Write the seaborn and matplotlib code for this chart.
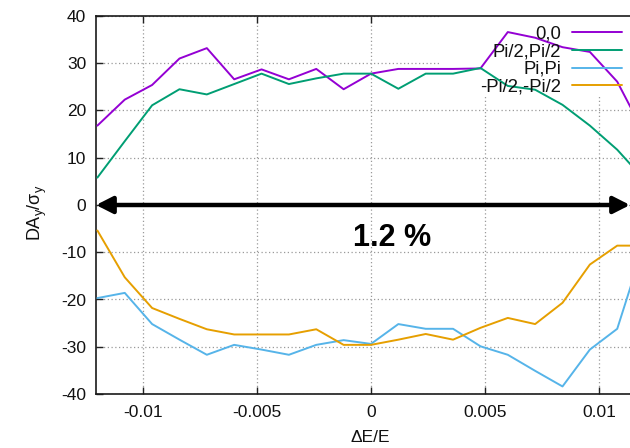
import matplotlib
matplotlib.use("Agg")
import matplotlib.pyplot as plt
import matplotlib.patches as mpatches
from matplotlib.lines import Line2D
import seaborn as sns
import pandas as pd

# ---------------- data ----------------
dE = [-0.012, -0.0108, -0.0096, -0.0084, -0.0072, -0.006, -0.0048, -0.0036,
      -0.0024, -0.0012, 0.0, 0.0012, 0.0024, 0.0036, 0.0048, 0.006, 0.0072,
      0.0084, 0.0096, 0.0108, 0.012]
da_00 = [16.8, 22.3, 25.4, 31.0, 33.2, 26.6, 28.7, 26.6, 28.8, 24.5, 27.8,
         28.8, 28.8, 28.8, 28.9, 36.6, 35.4, 33.4, 32.4, 26.1, 15.0]
da_pi2 = [5.8, 13.5, 21.1, 24.5, 23.4, 25.6, 27.8, 25.6, 26.8, 27.8, 27.8,
          24.6, 27.8, 27.8, 29.0, 25.2, 24.4, 21.2, 16.8, 11.7, 5.3]
da_pi = [-19.7, -18.6, -25.2, -28.5, -31.7, -29.6, -30.6, -31.7, -29.6, -28.6,
         -29.4, -25.2, -26.2, -26.2, -29.9, -31.7, -35.1, -38.4, -30.6, -26.2, -8.0]
da_mpi2 = [-5.4, -15.3, -21.8, -24.1, -26.3, -27.4, -27.4, -27.4, -26.3, -29.6,
           -29.6, -28.5, -27.3, -28.5, -26.0, -23.9, -25.2, -20.7, -12.6, -8.6, -8.6]
series_names = ["0,0", "Pi/2,Pi/2", "Pi,Pi", "-Pi/2,-Pi/2"]
series_vals = [da_00, da_pi2, da_pi, da_mpi2]
colors = ["#9400d3", "#009e73", "#56b4e9", "#e69f00"]

xticks = [-0.01, -0.005, 0.0, 0.005, 0.01]
xtick_labels = ["-0.01", "-0.005", "0", "0.005", "0.01"]
yticks = [-40, -30, -20, -10, 0, 10, 20, 30, 40]
ytick_labels = ["-40", "-30", "-20", "-10", "0", "10", "20", "30", "40"]
annot_text = "1.2 %"

rows = []
for name, vals in zip(series_names, series_vals):
    for x, y in zip(dE, vals):
        rows.append({"dE": x, "DA": y, "case": name})
df = pd.DataFrame(rows)

# ---------------- style ----------------
sns.set_theme(style="white")
plt.rcParams["font.family"] = ["Liberation Sans", "DejaVu Sans"]
plt.rcParams["mathtext.fontset"] = "custom"
plt.rcParams["mathtext.rm"] = "Liberation Sans"
plt.rcParams["mathtext.it"] = "Liberation Sans:italic"

W, H = 630, 448
fig = plt.figure(figsize=(W / 100, H / 100), dpi=100)
ax = fig.add_axes([96 / W, 1 - 394 / H, (630 - 96) / W, (394 - 16) / H])

sns.lineplot(data=df, x="dE", y="DA", hue="case", hue_order=series_names,
             palette=colors, ax=ax, legend=False, sort=False, linewidth=1.4,
             zorder=3)

ax.set_xlim(-0.012061, 0.01136)
ax.set_ylim(-40, 40)
ax.set_xticks(xticks)
ax.set_xticklabels(xtick_labels)
ax.set_yticks(yticks)
ax.set_yticklabels(ytick_labels)

ax.tick_params(axis="both", direction="in", length=5, width=1, color="#222222",
               labelsize=12.5, labelcolor="#111111", top=True, right=False,
               bottom=True, left=True)
ax.tick_params(axis="x", pad=8)
ax.tick_params(axis="y", pad=7)

ax.set_axisbelow(True)
ax.grid(True, linestyle=(0, (1, 2)), color="#9a9a9a", linewidth=0.9)

for side in ["left", "bottom", "top"]:
    ax.spines[side].set_color("#1a1a1a")
    ax.spines[side].set_linewidth(1.2)
ax.spines["right"].set_visible(False)

ax.set_xlabel("ΔE/E", fontsize=12.5, color="#111111")
ax.xaxis.set_label_coords(0.513, -0.095)
ax.set_ylabel(r"DA$_\mathregular{y}$/$\mathregular{\sigma_y}$", fontsize=13,
              color="#111111")
ax.yaxis.set_label_coords(-0.088, 0.48)

# white key area hides grid, not curves
ax.add_patch(mpatches.Rectangle((0.644, 0.791), 0.4, 0.209,
                                transform=ax.transAxes, facecolor="white",
                                edgecolor="none", zorder=1, clip_on=True))

handles = [Line2D([0], [0], color=c, lw=1.4) for c in colors]
leg = fig.legend(handles, series_names, loc="upper right",
                 bbox_to_anchor=(622 / W, 1 - 25.5 / H),
                 bbox_transform=fig.transFigure, frameon=False,
                 markerfirst=False, fontsize=13.3, handlelength=2.7,
                 handletextpad=0.6, labelspacing=0.04, borderpad=0,
                 borderaxespad=0)
for t in leg.get_texts():
    t.set_ha("right")
    t.set_color("#111111")

# double-headed arrow along zero
ax.annotate("", xy=(0.01136, 0), xytext=(-0.012061, 0),
            xycoords="data", textcoords="data", annotation_clip=False,
            arrowprops=dict(arrowstyle="<|-|>,head_length=0.55,head_width=0.28",
                            color="black", lw=3.2, mutation_scale=18,
                            shrinkA=0, shrinkB=0), zorder=5)
ax.text(0.00092, -6.9, annot_text, fontsize=22, fontweight="bold",
        ha="center", va="center", color="black", zorder=6)

fig.savefig("out.png", dpi=100)
